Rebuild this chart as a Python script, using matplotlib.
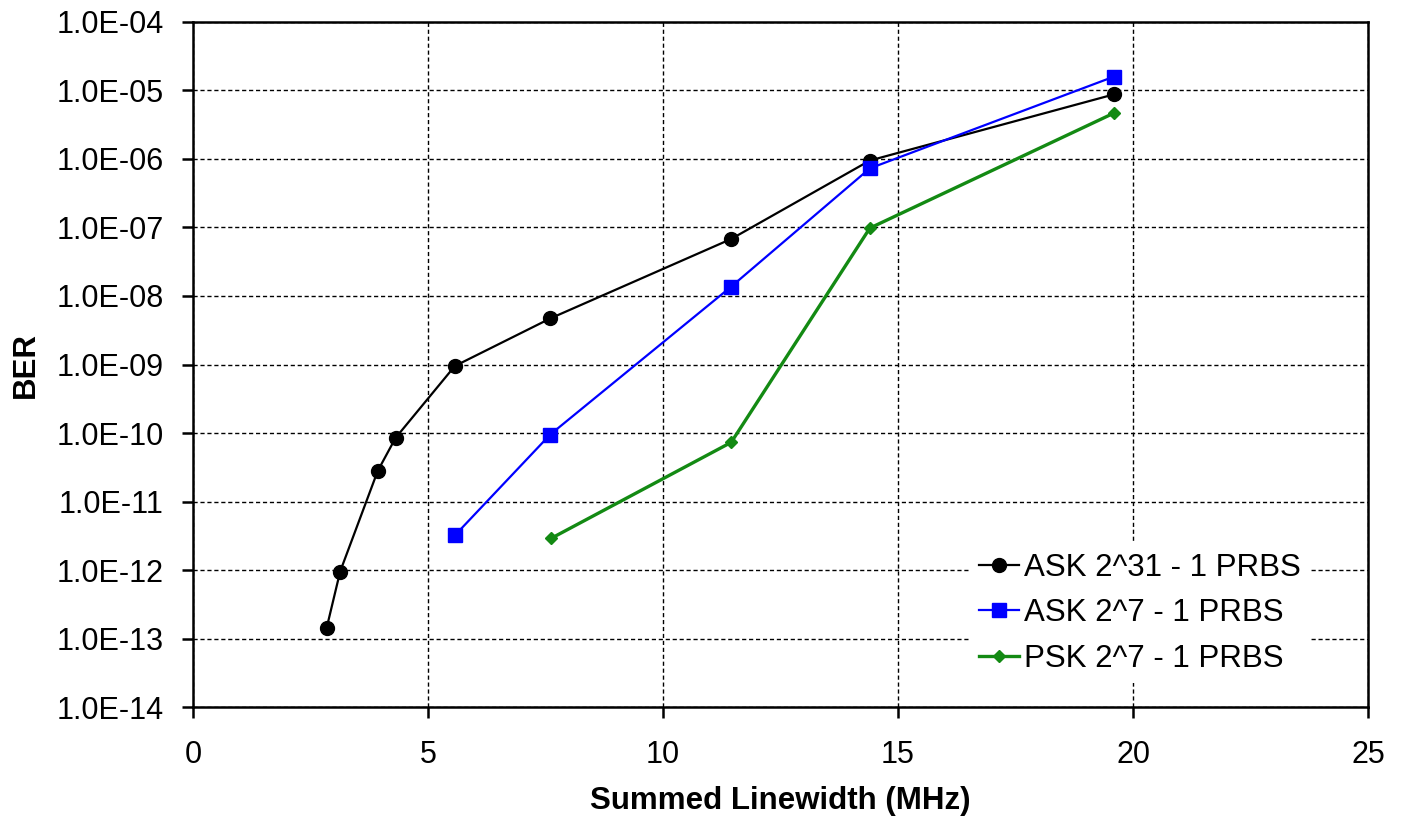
import numpy as np
import matplotlib.pyplot as plt
from matplotlib.ticker import FixedLocator, FuncFormatter, NullLocator

plt.rcParams['font.family'] = ['Liberation Sans', 'DejaVu Sans']

# BER versus summed laser linewidth
ask31_lw = [2.84, 3.13, 3.93, 4.31, 5.57, 7.6, 11.45, 14.4, 19.6]
ask31_ber = [1.4e-13, 9.5e-13, 2.8e-11, 8.5e-11, 9.5e-10, 4.7e-9, 6.8e-8, 9.5e-7, 8.8e-6]

ask7_lw = [5.57, 7.6, 11.45, 14.4, 19.6]
ask7_ber = [3.2e-12, 9.5e-11, 1.37e-8, 7.3e-7, 1.6e-5]

psk7_lw = [7.62, 11.45, 14.4, 19.6]
psk7_ber = [2.9e-12, 7.3e-11, 9.8e-8, 4.7e-6]

fig = plt.figure(figsize=(14.06, 8.27), dpi=100)
ax = fig.add_axes([0.1373, 0.1451, 0.8357, 0.8283])

ax.plot(ask31_lw, ask31_ber, color='black', lw=1.6, marker='o', ms=10,
        label='ASK 2^31 - 1 PRBS', zorder=3)
ax.plot(ask7_lw, ask7_ber, color='#0000ff', lw=1.6, marker='s', ms=10,
        label='ASK 2^7 - 1 PRBS', zorder=4)
ax.plot(psk7_lw, psk7_ber, color='#138a13', lw=2.4, marker='D', ms=6,
        label='PSK 2^7 - 1 PRBS', zorder=5)

ax.set_yscale('log')
ax.set_xlim(0, 25)
ax.set_ylim(1e-14, 1e-4)
ax.set_xticks([0, 5, 10, 15, 20, 25])
ax.yaxis.set_major_locator(FixedLocator([10.0 ** k for k in range(-14, -3)]))
ax.yaxis.set_minor_locator(NullLocator())
ax.yaxis.set_major_formatter(FuncFormatter(lambda v, p: '1.0E-%02d' % round(-np.log10(v))))

ax.grid(True, color='black', linestyle=(0, (3, 2)), lw=1.0)
ax.set_axisbelow(True)
for s in ax.spines.values():
    s.set_linewidth(1.8)
ax.tick_params(axis='both', direction='out', length=8, width=1.8, labelsize=22)
ax.tick_params(axis='x', pad=16)
ax.tick_params(axis='y', pad=13)

ax.set_xlabel('Summed Linewidth (MHz)', fontsize=22.5, fontweight='bold', labelpad=11)
ax.set_ylabel('BER', fontsize=22.5, fontweight='bold', labelpad=11)

leg = ax.legend(loc='lower right', bbox_to_anchor=(0.964, 0.012), fontsize=22.5,
                frameon=True, fancybox=False, framealpha=1, edgecolor='white',
                handlelength=1.3, handletextpad=0.15, borderpad=0.3,
                labelspacing=0.5)
leg.get_frame().set_linewidth(0)

fig.savefig('out.png', dpi=100)
